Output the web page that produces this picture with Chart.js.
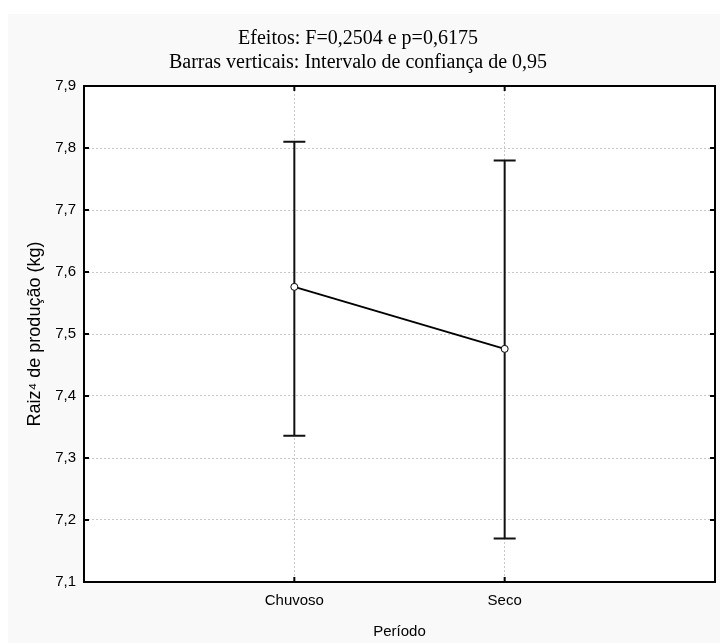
<!DOCTYPE html>
<html>
<head>
<meta charset="utf-8">
<script src="https://cdn.jsdelivr.net/npm/chart.js@4/dist/chart.umd.min.js"></script>
<style>
  html, body { margin: 0; padding: 0; background: #ffffff; }
  canvas { display: block; }
</style>
</head>
<body>
<canvas id="chart" width="720" height="643"></canvas>
<script>
const categories = ["Chuvoso", "Seco"];
const means = [7.576, 7.476];
const ciLow = [7.336, 7.170];
const ciHigh = [7.810, 7.780];
const yTicks = [7.1, 7.2, 7.3, 7.4, 7.5, 7.6, 7.7, 7.8, 7.9];

const gridColor = "#c8c8c8";

// panel background: white outer margin, light grey panel, white plot area
const background = {
    id: "background",
    beforeDraw(chart) {
        const ctx = chart.ctx;
        const a = chart.chartArea;
        ctx.save();
        ctx.fillStyle = "#ffffff";
        ctx.fillRect(0, 0, chart.width, chart.height);
        ctx.fillStyle = "#f9f9f9";
        ctx.fillRect(8, 14, chart.width - 8, chart.height - 14);
        ctx.fillStyle = "#ffffff";
        ctx.fillRect(a.left, a.top, a.right - a.left, a.bottom - a.top);
        ctx.restore();
    },
};

// vertical confidence interval bars with caps
const errorBars = {
    id: "errorBars",
    beforeDatasetsDraw(chart) {
        const ctx = chart.ctx;
        const xs = chart.scales.x;
        const ys = chart.scales.y;
        const cap = 11;
        ctx.save();
        ctx.strokeStyle = "#111111";
        ctx.lineWidth = 2;
        categories.forEach((c, i) => {
            const x = xs.getPixelForValue(i + 1);
            const yl = ys.getPixelForValue(ciLow[i]);
            const yh = ys.getPixelForValue(ciHigh[i]);
            ctx.beginPath();
            ctx.moveTo(x, yl);
            ctx.lineTo(x, yh);
            ctx.moveTo(x - cap, yh);
            ctx.lineTo(x + cap, yh);
            ctx.moveTo(x - cap, yl);
            ctx.lineTo(x + cap, yl);
            ctx.stroke();
        });
        ctx.restore();
    },
};

// plot frame with inward tick marks
const frame = {
    id: "frame",
    afterDraw(chart) {
        const ctx = chart.ctx;
        const a = chart.chartArea;
        const t = 5;
        ctx.save();
        ctx.strokeStyle = "#000000";
        ctx.lineWidth = 2;
        ctx.strokeRect(a.left, a.top, a.right - a.left, a.bottom - a.top);
        ctx.beginPath();
        chart.scales.x.ticks.forEach((tk) => {
            const x = chart.scales.x.getPixelForValue(tk.value);
            ctx.moveTo(x, a.bottom);
            ctx.lineTo(x, a.bottom - t);
            ctx.moveTo(x, a.top);
            ctx.lineTo(x, a.top + t);
        });
        chart.scales.y.ticks.forEach((tk) => {
            const y = chart.scales.y.getPixelForValue(tk.value);
            ctx.moveTo(a.left, y);
            ctx.lineTo(a.left + t, y);
            ctx.moveTo(a.right, y);
            ctx.lineTo(a.right - t, y);
        });
        ctx.stroke();
        ctx.restore();
    },
};

new Chart(document.getElementById("chart"), {
    type: "line",
    data: {
        datasets: [
            {
                data: means.map((m, i) => ({ x: i + 1, y: m })),
                borderColor: "#000000",
                borderWidth: 2,
                pointRadius: 3.5,
                pointBackgroundColor: "#ffffff",
                pointBorderColor: "#000000",
                pointBorderWidth: 1,
                tension: 0,
            },
        ],
    },
    options: {
        responsive: false,
        animation: false,
        devicePixelRatio: 1,
        layout: { padding: { left: 0, right: 4, top: 0, bottom: 0 } },
        plugins: {
            legend: { display: false },
            tooltip: { enabled: false },
            title: {
                display: true,
                text: [
                    "Efeitos: F=0,2504 e p=0,6175",
                    "Barras verticais: Intervalo de confiança de 0,95",
                ],
                color: "#000000",
                font: { family: "'Liberation Serif', 'Times New Roman', serif", size: 20, weight: "normal", lineHeight: 1.2 },
                padding: { top: 27, bottom: 11 },
            },
        },
        scales: {
            x: {
                type: "linear",
                min: 0,
                max: 3,
                afterBuildTicks(scale) {
                    scale.ticks = categories.map((c, i) => ({ value: i + 1 }));
                },
                afterFit(scale) {
                    scale.height = 61;
                },
                ticks: {
                    callback: (v) => categories[v - 1],
                    color: "#000000",
                    padding: 10,
                    maxRotation: 0,
                    font: { family: "'Liberation Sans', Arial, sans-serif", size: 15 },
                },
                grid: { color: gridColor, drawTicks: false, lineWidth: 1 },
                border: { display: false, dash: [2, 2] },
                title: {
                    display: true,
                    text: "Período",
                    color: "#000000",
                    font: { family: "'Liberation Sans', Arial, sans-serif", size: 15, lineHeight: 1.2 },
                    padding: { top: 0, bottom: 2 },
                },
            },
            y: {
                min: 7.1,
                max: 7.9,
                afterBuildTicks(scale) {
                    scale.ticks = yTicks.map((v) => ({ value: v }));
                },
                afterFit(scale) {
                    scale.width = 84;
                },
                ticks: {
                    callback: (v) => v.toFixed(1).replace(".", ","),
                    color: "#000000",
                    padding: 8,
                    font: { family: "'Liberation Sans', Arial, sans-serif", size: 15 },
                },
                grid: { color: gridColor, drawTicks: false, lineWidth: 1 },
                border: { display: false, dash: [2, 2] },
                title: {
                    display: true,
                    text: "Raiz\u2074 de produção (kg)",
                    color: "#000000",
                    font: { family: "'Liberation Sans', 'DejaVu Sans', Arial, sans-serif", size: 18, lineHeight: 1.2 },
                    padding: { top: 24, bottom: 0 },
                },
            },
        },
    },
    plugins: [background, errorBars, frame],
});
</script>
</body>
</html>
